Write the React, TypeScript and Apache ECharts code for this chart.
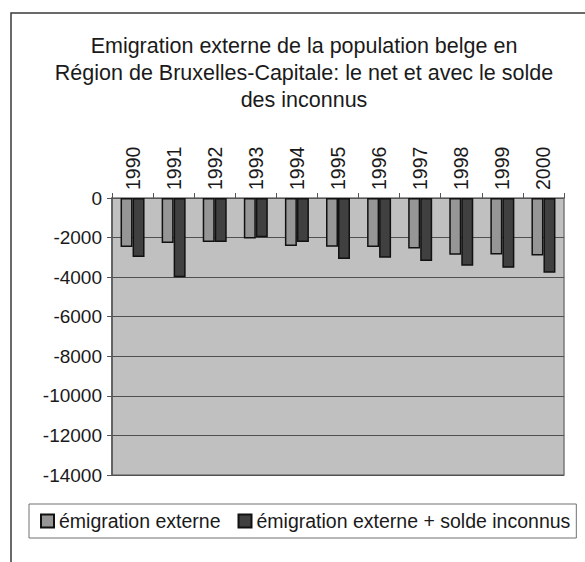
import React, { useEffect, useRef } from "react";
import * as echarts from "echarts";

const years = ["1990", "1991", "1992", "1993", "1994", "1995", "1996", "1997", "1998", "1999", "2000"];
const emigrationExterne = [-2480, -2280, -2220, -2050, -2420, -2470, -2480, -2550, -2870, -2850, -2900];
const emigrationPlusSolde = [-2980, -4000, -2230, -1980, -2230, -3080, -3020, -3180, -3420, -3530, -3780];
const yTicks = { min: -14000, max: 0, interval: 2000 };

const FONT = "'Liberation Sans', Arial, sans-serif";

export default function App() {
  const ref = useRef<HTMLDivElement>(null);

  useEffect(() => {
    if (!ref.current) return;
    const chart = echarts.init(ref.current, null, { renderer: "svg" });
    chart.setOption({
      animation: false,
      backgroundColor: "#ffffff",
      textStyle: { fontFamily: FONT, color: "#1a1a1a" },
      graphic: [
        {
          type: "rect",
          shape: { x: 11, y: 13, width: 620, height: 620 },
          style: { fill: "none", stroke: "#3a3a3a", lineWidth: 1.5 },
          silent: true,
        },
      ],
      title: {
        text: "Emigration externe de la population belge en\nRégion de Bruxelles-Capitale: le net et avec le solde\ndes inconnus",
        left: 304,
        top: 32,
        textAlign: "center",
        padding: 0,
        textStyle: {
          fontFamily: FONT,
          fontSize: 21.5,
          fontWeight: "normal",
          color: "#1a1a1a",
          lineHeight: 27,
        },
      },
      legend: {
        left: 29,
        top: 504,
        height: 20,
        padding: [7, 6, 7, 11],
        borderColor: "#707070",
        borderWidth: 1,
        backgroundColor: "#ffffff",
        itemWidth: 13,
        itemHeight: 13,
        itemGap: 17,
        itemTextGap: 7,
        icon: "rect",
        textStyle: { fontFamily: FONT, fontSize: 19.5, color: "#1a1a1a" },
        data: ["émigration externe", "émigration externe + solde inconnus"],
      },
      grid: {
        left: 112,
        right: 21,
        top: 198,
        height: 277,
        show: true,
        backgroundColor: "#c0c0c0",
        borderColor: "#7a7a7a",
        borderWidth: 1.5,
      },
      xAxis: {
        type: "category",
        position: "top",
        data: years,
        axisLine: { show: true, lineStyle: { color: "#555555", width: 1 } },
        axisTick: { show: true, length: 5, lineStyle: { color: "#555555" } },
        axisLabel: {
          rotate: 90,
          interval: 0,
          fontFamily: FONT,
          fontSize: 19.5,
          color: "#1a1a1a",
          margin: 8,
        },
      },
      yAxis: {
        type: "value",
        min: yTicks.min,
        max: yTicks.max,
        interval: yTicks.interval,
        axisLine: { show: true, lineStyle: { color: "#555555", width: 1.5 } },
        axisTick: { show: true, length: 5, lineStyle: { color: "#555555" } },
        axisLabel: {
          fontFamily: FONT,
          fontSize: 19,
          color: "#1a1a1a",
          margin: 10,
          formatter: (v: number) => String(v),
        },
        splitLine: { show: true, lineStyle: { color: "#505050", width: 1 } },
      },
      series: [
        {
          name: "émigration externe",
          type: "bar",
          data: emigrationExterne,
          barWidth: 12,
          barGap: "0%",
          itemStyle: { color: "#969696", borderColor: "#111111", borderWidth: 1.5 },
        },
        {
          name: "émigration externe + solde inconnus",
          type: "bar",
          data: emigrationPlusSolde,
          barWidth: 12,
          barGap: "0%",
          itemStyle: { color: "#404040", borderColor: "#111111", borderWidth: 1.5 },
        },
      ],
    });
    return () => chart.dispose();
  }, []);

  return <div ref={ref} style={{ width: 585, height: 562, position: "absolute", left: 0, top: 0 }} />;
}
